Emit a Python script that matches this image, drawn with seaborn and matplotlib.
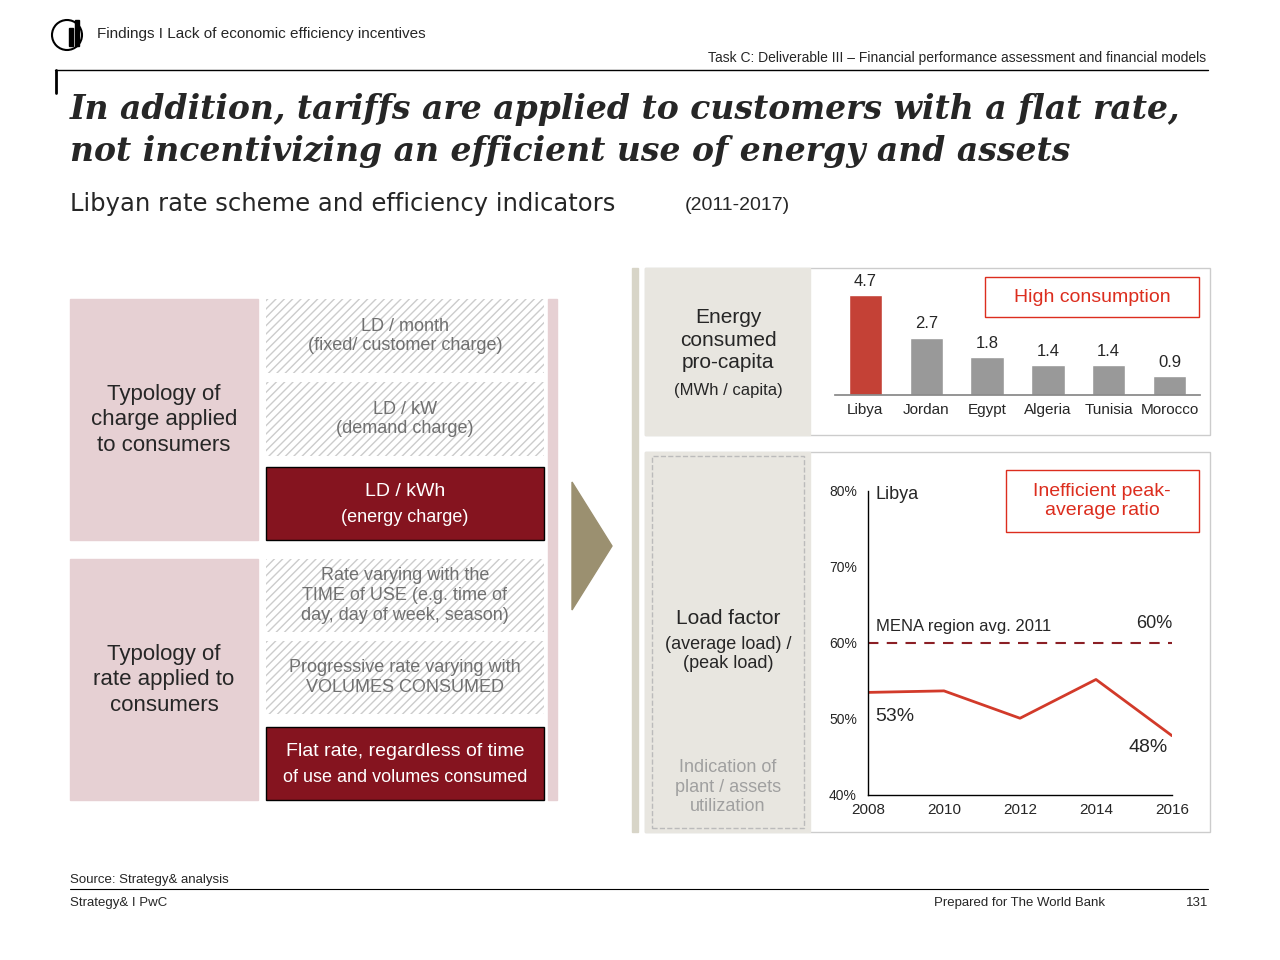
import matplotlib
matplotlib.use("Agg")
import matplotlib.pyplot as plt
import seaborn as sns
import pandas as pd
from matplotlib.patches import Rectangle, Polygon, Ellipse

# data
countries = ["Libya", "Jordan", "Egypt", "Algeria", "Tunisia", "Morocco"]
consumption = [4.7, 2.7, 1.8, 1.4, 1.4, 0.9]
years = [2008, 2010, 2012, 2014, 2016]
load_factor = [53.5, 53.7, 50.1, 55.2, 47.8]
mena_avg = 60

sns.set_theme(style="white")
plt.rcParams['font.family'] = ['Liberation Sans', 'DejaVu Sans']

W, H = 1280, 960
fig = plt.figure(figsize=(12.8, 9.6), dpi=100)

def fx(x):
    return x / W

def fy(y):
    return 1 - y / H

def rect(x0, y0, x1, y1, **kw):
    fig.add_artist(Rectangle((fx(x0), fy(y1)), fx(x1 - x0), (y1 - y0) / H,
                             transform=fig.transFigure, **kw))

def text(x, y, s, **kw):
    fig.text(fx(x), fy(y), s, **kw)

def hline(x0, x1, y, **kw):
    fig.add_artist(plt.Line2D([fx(x0), fx(x1)], [fy(y), fy(y)], transform=fig.transFigure, **kw))

# header
fig.add_artist(Ellipse((fx(67), fy(35)), 30 / W, 30 / H, transform=fig.transFigure,
                       fill=False, lw=1.5, color="black"))
rect(69, 28, 73, 46, color="black")
rect(75, 20, 79, 46, color="black")
text(97, 34, "Findings I Lack of economic efficiency incentives", fontsize=11, va="center")
text(1206, 58, "Task C: Deliverable III \u2013 Financial performance assessment and financial models",
     fontsize=10, ha="right", va="center")
hline(55, 1208, 70, color="black", lw=1)
fig.add_artist(plt.Line2D([fx(56), fx(56)], [fy(70), fy(93)], transform=fig.transFigure, color="black", lw=2))
text(70, 110, "In addition, tariffs are applied to customers with a flat rate,", fontsize=23.8,
     fontweight="bold", style="italic", family="DejaVu Serif", va="center")
text(70, 151, "not incentivizing an efficient use of energy and assets", fontsize=23.8,
     fontweight="bold", style="italic", family="DejaVu Serif", va="center")
text(70, 204, "Libyan rate scheme and efficiency indicators", fontsize=17.5,
     family="DejaVu Sans", va="center")
text(685, 205, "(2011-2017)", fontsize=14, va="center")

# left panel
pink = "#e6d0d3"
dark = "#85141f"
rect(70, 299, 258, 540, color=pink)
rect(70, 559, 258, 800, color=pink)
rect(548, 299, 557, 800, color=pink)
text(164, 420, "Typology of\ncharge applied\nto consumers", fontsize=16, ha="center", va="center", linespacing=1.3)
text(164, 680, "Typology of\nrate applied to\nconsumers", fontsize=16, ha="center", va="center", linespacing=1.3)

hatched = [(299, 373, "LD / month\n(fixed/ customer charge)"),
           (382, 456, "LD / kW\n(demand charge)"),
           (559, 632, "Rate varying with the\nTIME of USE (e.g. time of\nday, day of week, season)"),
           (641, 714, "Progressive rate varying with\nVOLUMES CONSUMED")]
for y0, y1, s in hatched:
    rect(266, y0, 544, y1, facecolor="white", edgecolor="#cccccc", hatch="////", lw=0)
    text(405, (y0 + y1) / 2, s, fontsize=13, ha="center", va="center", color="#707070")
rect(266, 467, 544, 540, facecolor=dark, edgecolor="black", lw=1)
text(405, 492, "LD / kWh", fontsize=14, ha="center", va="center", color="white")
text(405, 517, "(energy charge)", fontsize=13, ha="center", va="center", color="white")
rect(266, 727, 544, 800, facecolor=dark, edgecolor="black", lw=1)
text(405, 752, "Flat rate, regardless of time", fontsize=14, ha="center", va="center", color="white")
text(405, 777, "of use and volumes consumed", fontsize=13, ha="center", va="center", color="white")

# arrow
fig.add_artist(Polygon([(fx(572), fy(482)), (fx(612), fy(546)), (fx(572), fy(610))],
                       transform=fig.transFigure, color="#9b9070"))

# right panels
rect(632, 268, 638, 832, color="#d8d5c8")
rect(645, 268, 1210, 435, facecolor="white", edgecolor="#cccccc", lw=1)
rect(645, 268, 810, 435, color="#e8e6e0")
text(728, 340, "Energy\nconsumed\npro-capita", fontsize=15, ha="center", va="center", linespacing=1.25)
text(728, 390, "(MWh / capita)", fontsize=12, ha="center", va="center")
rect(645, 452, 1210, 832, facecolor="white", edgecolor="#cccccc", lw=1)
rect(645, 452, 810, 832, color="#e8e6e0")
rect(652, 456, 804, 828, fill=False, edgecolor="#bbbbbb", ls="--", lw=1)
text(728, 619, "Load factor", fontsize=15, ha="center", va="center")
text(728, 654, "(average load) /\n(peak load)", fontsize=13, ha="center", va="center")
text(728, 787, "Indication of\nplant / assets\nutilization", fontsize=13, ha="center", va="center", color="#a0a0a0")

# bar chart
ax1 = fig.add_axes([fx(835), fy(395), fx(1200 - 835), (395 - 270) / H])
ax1.set_zorder(5)
df1 = pd.DataFrame({"country": countries, "value": consumption})
sns.barplot(data=df1, x="country", y="value", hue="country",
            palette=["#dc2d1e"] + ["#999999"] * 5, legend=False, width=0.55, ax=ax1)
ax1.set_ylim(0, 5.9)
for i, v in enumerate(consumption):
    ax1.text(i, v + 0.3, f"{v}", ha="center", va="bottom", fontsize=12)
ax1.set_xlabel("")
ax1.set_ylabel("")
ax1.set_yticks([])
ax1.tick_params(axis="x", labelsize=11, length=0, pad=6)
sns.despine(ax=ax1, left=True)
ax1.spines["bottom"].set_color("#888888")
ax1.patch.set_alpha(0)
rect(985, 277, 1199, 317, fill=False, edgecolor="#dc2d1e", lw=1)
text(1092, 297, "High consumption", fontsize=14, ha="center", va="center", color="#dc2d1e")

# line chart
ax2 = fig.add_axes([fx(868), fy(795), fx(1172 - 868), (795 - 491) / H])
ax2.set_zorder(5)
df2 = pd.DataFrame({"year": years, "lf": load_factor})
sns.lineplot(data=df2, x="year", y="lf", color="#d23a2a", lw=2, ax=ax2)
ax2.plot([years[0], years[-1]], [mena_avg, mena_avg], ls=(0, (5, 4)), color="#8b1f25", lw=1.5)
ax2.set_xlim(years[0], years[-1])
ax2.set_ylim(40, 80)
ax2.set_xticks(years)
ax2.set_yticks([40, 50, 60, 70, 80])
ax2.set_yticklabels([f"{t}%" for t in [40, 50, 60, 70, 80]])
ax2.tick_params(axis="y", labelsize=10, length=0, pad=8)
ax2.tick_params(axis="x", labelsize=11, length=0, pad=6)
ax2.set_xlabel("")
ax2.set_ylabel("")
sns.despine(ax=ax2, right=True, top=True)
for s in ["left", "bottom"]:
    ax2.spines[s].set_color("black")
    ax2.spines[s].set_linewidth(1)
ax2.patch.set_alpha(0)
ax2.text(2008.2, 79.5, "Libya", fontsize=13, va="center")
ax2.text(2008.2, 61.2, "MENA region avg. 2011", fontsize=12, va="bottom")
ax2.text(2016, 61.5, "60%", fontsize=13, ha="right", va="bottom")
ax2.text(2008.2, 50.3, "53%", fontsize=14, va="center")
ax2.text(2015.9, 46.2, "48%", fontsize=14, ha="right", va="center")
rect(1006, 470, 1199, 532, fill=False, edgecolor="#dc2d1e", lw=1)
text(1102, 501, "Inefficient peak-\naverage ratio", fontsize=14, ha="center", va="center",
     color="#dc2d1e", linespacing=1.2)

# footer
text(70, 880, "Source: Strategy& analysis", fontsize=9.5, va="center")
hline(70, 1208, 889, color="black", lw=0.8)
text(70, 903, "Strategy& I PwC", fontsize=9.5, va="center")
text(1105, 903, "Prepared for The World Bank", fontsize=9.5, ha="right", va="center")
text(1208, 903, "131", fontsize=9.5, ha="right", va="center")

fig.savefig("out.png", dpi=100)
